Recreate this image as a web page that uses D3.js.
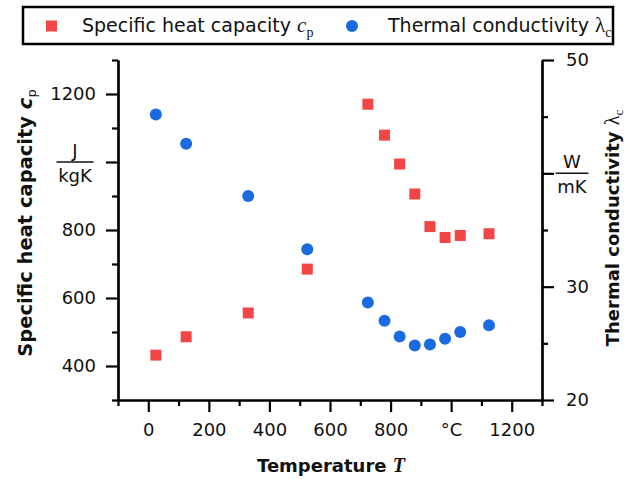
<!DOCTYPE html>
<html><head><meta charset="utf-8">
<script src="https://cdn.jsdelivr.net/npm/d3@7"></script>
<style>
body{margin:0;background:#fff;}
svg{display:block;font-family:"DejaVu Sans",sans-serif;}
</style></head>
<body><svg id="c" width="627" height="479"></svg>
<script>
const temps = [25,125,330,525,725,780,830,880,930,980,1030,1125];
const cpVals = [432,486,556,685,1170,1079,994,906,810,778,784,789];
const lambdaVals = [45.2,42.6,38.0,33.3,28.6,27.0,25.6,24.8,24.9,25.4,26.0,26.6];
const xMajor = [0,200,400,600,800,1000,1200];
const xMajorLabels = ["0","200","400","600","800","°C","1200"];
const xMinor = [-100,100,300,500,700,900,1100,1300];
const yLMajor = [400,600,800,1000,1200];
const yLMajorLabels = ["400","600","800","","1200"];
const yLMinor = [300,500,700,900,1100,1300];
const yRMajor = [20,30,40,50];
const yRMajorLabels = ["20","30","","50"];
const yRMinor = [25,35,45];

const red = "#f24646", blue = "#1a6be0";
const svg = d3.select("#c");
const X0=118, X1=542, Y0=400, Y1=60;
const x = d3.scaleLinear().domain([-100,1300]).range([X0,X1]);
const yL = d3.scaleLinear().domain([300,1300]).range([Y0,Y1]);
const yR = d3.scaleLinear().domain([20,50]).range([Y0,Y1]);

function styleAxis(g){
  g.select(".domain").attr("stroke","#000").attr("stroke-width",2.2);
  g.selectAll(".tick line").attr("stroke","#000").attr("stroke-width",2.2);
  g.selectAll(".tick text").attr("font-size",18).attr("fill","#111").attr("font-family","DejaVu Sans");
}
const gxMin = svg.append("g").attr("transform",`translate(0,${Y0})`)
  .call(d3.axisBottom(x).tickValues(xMinor).tickSize(6).tickFormat("").tickSizeOuter(0));
styleAxis(gxMin);
const gx = svg.append("g").attr("transform",`translate(0,${Y0})`)
  .call(d3.axisBottom(x).tickValues(xMajor).tickSize(12).tickPadding(11).tickSizeOuter(0)
  .tickFormat((d,i)=>xMajorLabels[i]));
styleAxis(gx);
const gyMin = svg.append("g").attr("transform",`translate(${X0},0)`)
  .call(d3.axisLeft(yL).tickValues(yLMinor).tickSize(6).tickFormat("").tickSizeOuter(0));
styleAxis(gyMin);
const gy = svg.append("g").attr("transform",`translate(${X0},0)`)
  .call(d3.axisLeft(yL).tickValues(yLMajor).tickSize(12).tickPadding(10).tickSizeOuter(0)
  .tickFormat((d,i)=>yLMajorLabels[i]));
styleAxis(gy);
const grMin = svg.append("g").attr("transform",`translate(${X1},0)`)
  .call(d3.axisRight(yR).tickValues(yRMinor).tickSize(6).tickFormat("").tickSizeOuter(0));
styleAxis(grMin);
const gr = svg.append("g").attr("transform",`translate(${X1},0)`)
  .call(d3.axisRight(yR).tickValues(yRMajor).tickSize(12).tickPadding(12).tickSizeOuter(0)
  .tickFormat((d,i)=>yRMajorLabels[i]));
styleAxis(gr);

function fraction(cx, cy, top, bottom, w){
  const g = svg.append("g").attr("font-size",18).attr("fill","#111").attr("text-anchor","middle");
  g.append("text").attr("x",cx).attr("y",cy-5).text(top);
  g.append("line").attr("x1",cx-w/2).attr("x2",cx+w/2).attr("y1",cy).attr("y2",cy)
    .attr("stroke","#111").attr("stroke-width",1.5);
  g.append("text").attr("x",cx).attr("y",cy+20).text(bottom);
}
fraction(75, yL(1000), "J", "kgK", 37);
fraction(572, yR(40), "W", "mK", 33);

svg.append("g").selectAll("rect").data(temps).join("rect")
  .attr("x",(d)=>x(d)-5.5).attr("y",(d,i)=>yL(cpVals[i])-5.5)
  .attr("width",11).attr("height",11).attr("fill",red);
svg.append("g").selectAll("circle").data(temps).join("circle")
  .attr("cx",(d)=>x(d)).attr("cy",(d,i)=>yR(lambdaVals[i])).attr("r",6).attr("fill",blue);

const xt = svg.append("text").attr("x",331).attr("y",472).attr("text-anchor","middle")
  .attr("font-size",18).attr("font-weight","bold").attr("fill","#111");
xt.append("tspan").text("Temperature ");
xt.append("tspan").attr("font-family","Liberation Serif").attr("font-style","italic").attr("font-size",20).text("T");

const lt = svg.append("text").attr("transform","translate(32,223) rotate(-90)").attr("text-anchor","middle")
  .attr("font-size",19.5).attr("font-weight","bold").attr("fill","#111");
lt.append("tspan").text("Specific heat capacity ");
lt.append("tspan").attr("font-style","italic").text("c");
lt.append("tspan").attr("font-size",13).attr("dy",4).attr("font-weight","normal").text("p");

const rt = svg.append("text").attr("transform","translate(619,228) rotate(-90)").attr("text-anchor","middle")
  .attr("font-size",18).attr("font-weight","bold").attr("fill","#111");
rt.append("tspan").text("Thermal conductivity ");
rt.append("tspan").attr("font-family","Liberation Serif").attr("font-weight","normal").attr("font-size",20).text("λ");
rt.append("tspan").attr("font-family","Liberation Serif").attr("font-weight","normal").attr("font-size",13).attr("dy",4).text("c");

const lg = svg.append("g");
lg.append("rect").attr("x",23).attr("y",7).attr("width",590).attr("height",37)
  .attr("fill","#fff").attr("stroke","#000").attr("stroke-width",2.5);
lg.append("rect").attr("x",46).attr("y",20.5).attr("width",11).attr("height",11).attr("fill",red);
const l1 = lg.append("text").attr("x",82).attr("y",32).attr("font-size",19).attr("fill","#111");
l1.append("tspan").text("Specific heat capacity ");
l1.append("tspan").attr("font-family","Liberation Serif").attr("font-style","italic").attr("font-size",21).text("c");
l1.append("tspan").attr("font-family","Liberation Serif").attr("font-size",14).attr("dy",5).text("p");
lg.append("circle").attr("cx",352).attr("cy",26).attr("r",6).attr("fill",blue);
const l2 = lg.append("text").attr("x",388).attr("y",32).attr("font-size",19).attr("fill","#111");
l2.append("tspan").text("Thermal conductivity ");
l2.append("tspan").attr("font-family","Liberation Serif").attr("font-size",21).text("λ");
l2.append("tspan").attr("font-family","Liberation Serif").attr("font-size",14).attr("dy",5).text("c");
</script></body></html>
